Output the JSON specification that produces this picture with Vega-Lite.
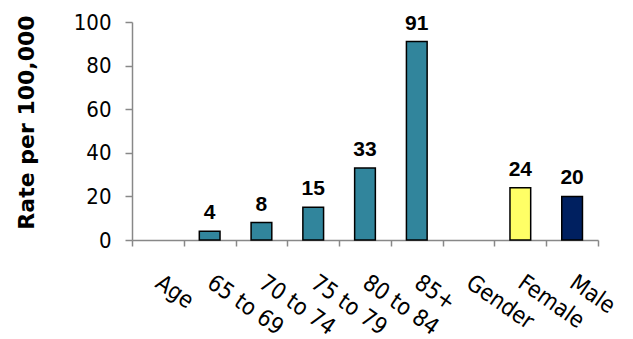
{
  "$schema": "https://vega.github.io/schema/vega-lite/v6.json",
  "autosize": {"type": "none"},
  "width": 466,
  "height": 218,
  "padding": {"left": 132, "top": 22, "right": 35, "bottom": 99},
  "background": "white",
  "config": {"view": {"stroke": null}},
  "data": {
    "values": [
      {"group": "Age", "rate": null, "kind": "blank"},
      {"group": "65 to 69", "rate": 4, "kind": "age"},
      {"group": "70 to 74", "rate": 8, "kind": "age"},
      {"group": "75 to 79", "rate": 15, "kind": "age"},
      {"group": "80 to 84", "rate": 33, "kind": "age"},
      {"group": "85+", "rate": 91, "kind": "age"},
      {"group": "Gender", "rate": null, "kind": "blank"},
      {"group": "Female", "rate": 24, "kind": "female"},
      {"group": "Male", "rate": 20, "kind": "male"}
    ]
  },
  "encoding": {
    "x": {
      "field": "group",
      "type": "nominal",
      "sort": null,
      "scale": {
        "domain": ["Age", "65 to 69", "70 to 74", "75 to 79", "80 to 84", "85+", "Gender", "Female", "Male"],
        "paddingInner": 0,
        "paddingOuter": 0
      },
      "axis": {
        "title": null,
        "tickBand": "extent",
        "domainColor": "#888888",
        "domainWidth": 1.5,
        "tickColor": "#888888",
        "tickWidth": 1.5,
        "tickSize": 6,
        "labelAngle": 35,
        "labelAlign": "left",
        "labelBaseline": "top",
        "labelPadding": 25,
        "labelOffset": 6,
        "labelFont": "DejaVu Sans Condensed",
        "labelFontSize": 23,
        "labelColor": "black",
        "labelOverlap": false,
        "labelBound": false
      }
    },
    "y": {
      "field": "rate",
      "type": "quantitative",
      "scale": {"domain": [0, 100]},
      "axis": {
        "title": "Rate per 100,000",
        "titleFont": "DejaVu Sans",
        "titleFontWeight": "bold",
        "titleFontSize": 22,
        "titleColor": "black",
        "titleAngle": -90,
        "titleAlign": "center",
        "titleBaseline": "alphabetic",
        "titleX": -99,
        "titleY": 100,
        "values": [0, 20, 40, 60, 80, 100],
        "grid": false,
        "domainColor": "#888888",
        "domainWidth": 1.5,
        "tickColor": "#888888",
        "tickWidth": 1.5,
        "tickSize": 7,
        "labelPadding": 14,
        "labelFont": "DejaVu Sans Condensed",
        "labelFontSize": 22,
        "labelColor": "black"
      }
    }
  },
  "layer": [
    {
      "mark": {"type": "bar", "width": {"band": 0.4}, "stroke": "black", "strokeWidth": 1.5},
      "encoding": {
        "color": {
          "field": "kind",
          "type": "nominal",
          "scale": {
            "domain": ["age", "female", "male", "blank"],
            "range": ["#31859C", "#FFFF66", "#002060", "#ffffff"]
          },
          "legend": null
        }
      }
    },
    {
      "mark": {
        "type": "text",
        "baseline": "alphabetic",
        "dy": -12,
        "font": "Liberation Sans",
        "fontWeight": "bold",
        "fontSize": 21,
        "color": "black"
      },
      "encoding": {"text": {"field": "rate", "type": "quantitative"}}
    }
  ]
}
